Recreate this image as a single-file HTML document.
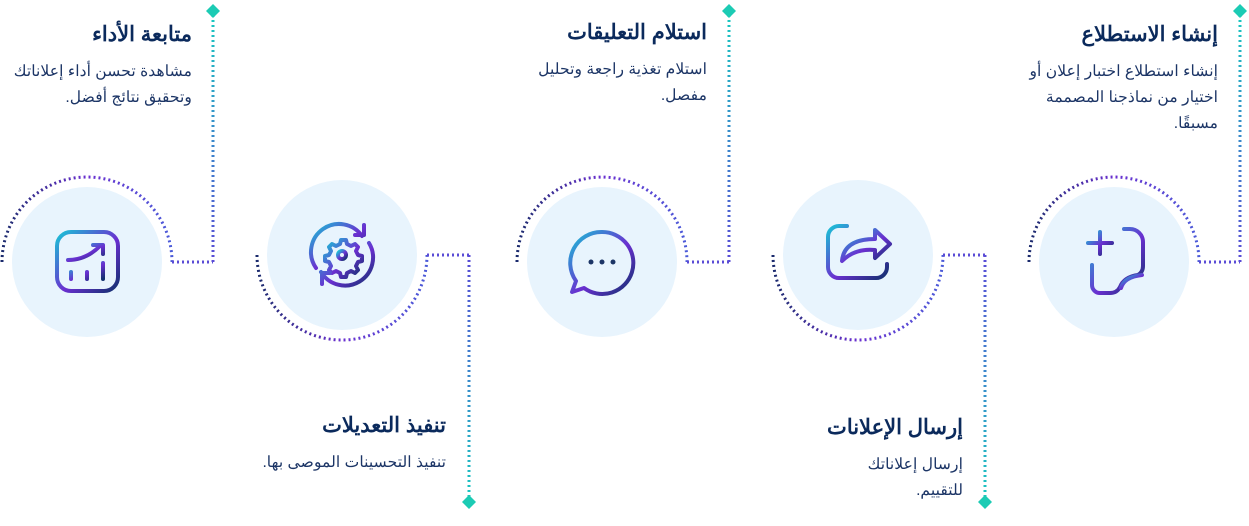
<!DOCTYPE html>
<html><head><meta charset="utf-8"><style>
body{margin:0;background:#fff;width:1249px;height:526px;overflow:hidden;position:relative;font-family:"Liberation Sans","Noto Sans CJK SC",sans-serif}
.t{position:absolute;direction:rtl;text-align:right;color:#0d2b5e}
.t h3{margin:0;font-size:21px;font-weight:bold;line-height:28px;color:#0b2a5c}
.t p{margin:10px 0 0;font-size:15.7px;line-height:26px;color:#1c3566}
</style></head><body>
<svg width="1249" height="526" style="position:absolute;left:0;top:0">
<defs>
<linearGradient id="arc" x1="0" y1="0" x2="1" y2="0"><stop offset="0" stop-color="#1a2a6c"/><stop offset="0.5" stop-color="#6a2fd0"/><stop offset="1" stop-color="#4a5ad8"/></linearGradient>
<linearGradient id="vu" gradientUnits="userSpaceOnUse" x1="0" y1="262" x2="0" y2="14"><stop offset="0" stop-color="#5a4bd6"/><stop offset="1" stop-color="#18c9c0"/></linearGradient>
<linearGradient id="vd" gradientUnits="userSpaceOnUse" x1="0" y1="255" x2="0" y2="502"><stop offset="0" stop-color="#5a4bd6"/><stop offset="1" stop-color="#18c9c0"/></linearGradient>
<linearGradient id="ic" x1="0" y1="0" x2="1" y2="1"><stop offset="0" stop-color="#19c3d6"/><stop offset="0.55" stop-color="#6a2fd0"/><stop offset="1" stop-color="#12306e"/></linearGradient>
</defs>
<g fill="#e8f4fd">
<circle cx="1114" cy="262" r="75"/><circle cx="858" cy="255" r="75"/><circle cx="602" cy="262" r="75"/><circle cx="342" cy="255" r="75"/><circle cx="87" cy="262" r="75"/>
</g>
<g fill="none" stroke-width="3" stroke-dasharray="2 3">
<path d="M1029 262 A85 85 0 0 1 1199 262" stroke="url(#arc)"/>
<path d="M1199 262 H1240" stroke="#5a4bd6"/>
<path d="M1240 262 V14" stroke="url(#vu)"/>
<path d="M773 255 A85 85 0 0 0 943 255" stroke="url(#arc)"/>
<path d="M943 255 H985" stroke="#5a4bd6"/>
<path d="M985 255 V502" stroke="url(#vd)"/>
<path d="M517 262 A85 85 0 0 1 687 262" stroke="url(#arc)"/>
<path d="M687 262 H729" stroke="#5a4bd6"/>
<path d="M729 262 V14" stroke="url(#vu)"/>
<path d="M257 255 A85 85 0 0 0 427 255" stroke="url(#arc)"/>
<path d="M427 255 H469" stroke="#5a4bd6"/>
<path d="M469 255 V502" stroke="url(#vd)"/>
<path d="M2 262 A85 85 0 0 1 172 262" stroke="url(#arc)"/>
<path d="M172 262 H213" stroke="#5a4bd6"/>
<path d="M213 262 V14" stroke="url(#vu)"/>
</g>
<g fill="#1ccbb4">
<path d="M1240 4 l7 7 l-7 7 l-7 -7z"/><path d="M729 4 l7 7 l-7 7 l-7 -7z"/><path d="M213 4 l7 7 l-7 7 l-7 -7z"/>
<path d="M985 495 l7 7 l-7 7 l-7 -7z"/><path d="M469 495 l7 7 l-7 7 l-7 -7z"/>
</g>
<g fill="none" stroke="url(#ic)" stroke-width="4" stroke-linecap="round" stroke-linejoin="round">
<path d="M1100 232 v22 M1088 243 h24"/>
<path d="M1124 229 h6 a13 13 0 0 1 13 13 v24 q0 6 -5 9 q-14 2 -18 12 q-3 6 -10 6 h-10 a8 8 0 0 1 -8 -8 v-20"/>
<path d="M1121 288 q3 -11 21 -13"/>
<path d="M847 226 h-8 a11 11 0 0 0 -11 11 v30 a11 11 0 0 0 11 11 h37 a11 11 0 0 0 11 -11 v-3"/>
<path d="M842 261 q2 -22 33 -22 v-9 l15 14 l-15 14 v-8 q-20 -2 -33 11z"/>
<path d="M602 232 a31 31 0 1 1 -18 56 l-12 4 l4 -11 a31 31 0 0 1 26 -49z"/>
<circle cx="342" cy="255" r="4"/>
<path d="M342 240 l4 0 1 4 4 2 4-2 3 3-2 4 2 4 4 1 v5 l-4 1-2 4 2 4-3 3-4-2-4 2-1 4 h-5 l-1-4-4-2-4 2-3-3 2-4-2-4-4-1 v-5 l4-1 2-4-2-4 3-3 4 2 4-2 1-4z"/>
<path d="M316 268 a28 28 0 0 1 46 -32 M364 225 v10 h-9"/>
<path d="M369 243 a28 28 0 0 1 -48 29 M322 284 v-11 h8"/>
<rect x="57" y="232" width="61" height="59" rx="14"/>
<path d="M68 260 q18 0 32 -14 M93 245 h10 v9"/>
<path d="M71 272 v7 M87 272 v7 M103 263 v16"/>
</g>
<g fill="#1c3566"><circle cx="591" cy="262" r="2.5"/><circle cx="602" cy="262" r="2.5"/><circle cx="613" cy="262" r="2.5"/></g>
</svg>

<div class="t" style="right:31px;top:21px;width:200px"><h3>إنشاء الاستطلاع</h3><p>إنشاء استطلاع اختبار إعلان أو اختيار من نماذجنا المصممة مسبقًا.</p></div>
<div class="t" style="right:286px;top:414px;width:110px"><h3 style="white-space:nowrap">إرسال الإعلانات</h3><p>إرسال إعلاناتك للتقييم.</p></div>
<div class="t" style="right:542px;top:19px;width:180px"><h3>استلام التعليقات</h3><p>استلام تغذية راجعة وتحليل مفصل.</p></div>
<div class="t" style="right:803px;top:412px;width:220px"><h3>تنفيذ التعديلات</h3><p>تنفيذ التحسينات الموصى بها.</p></div>
<div class="t" style="right:1057px;top:21px;width:185px"><h3>متابعة الأداء</h3><p>مشاهدة تحسن أداء إعلاناتك وتحقيق نتائج أفضل.</p></div>
</body></html>
